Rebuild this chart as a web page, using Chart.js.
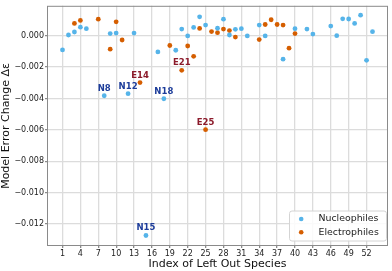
<!DOCTYPE html>
<html>
<head>
<meta charset="utf-8">
<script src="https://cdn.jsdelivr.net/npm/chart.js@4.4.0/dist/chart.umd.min.js"></script>
<style>
html, body { margin: 0; padding: 0; background: #fff; }
</style>
</head>
<body>
<canvas id="scatter" width="392" height="271"></canvas>
<script>
// values
var nucIndex = [1, 2, 3, 4, 5, 8, 9, 10, 12, 13, 15, 17, 18, 20, 21, 22, 23, 24, 25, 27,
    28, 29, 30, 31, 32, 34, 35, 38, 40, 42, 43, 46, 47, 48, 49, 50, 51, 52, 53];
var nucChange = [-0.00091, 0.00004, 0.00023, 0.00054, 0.00044, -0.00383, 0.00013, 0.00016, -0.00370, 0.00016,
    -0.01273, -0.00104, -0.00402, -0.00093, 0.00042, -0.00002, 0.00052, 0.00120, 0.00067, 0.00047,
    0.00105, 0.00004, 0.00040, 0.00044, -0.00002, 0.00067, -0.00002, -0.00150, 0.00044, 0.00042,
    0.00010, 0.00061, 0.00000, 0.00107, 0.00106, 0.00078, 0.00130, -0.00157, 0.00025];
var elecIndex = [3, 4, 7, 9, 10, 11, 14, 19, 21, 22, 23, 24, 25, 26, 27, 28, 29, 30, 34, 35,
    36, 37, 38, 39, 40];
var elecChange = [0.00078, 0.00097, 0.00105, -0.00086, 0.00088, -0.00028, -0.00299, -0.00063, -0.00221, -0.00066,
    -0.00132, 0.00046, -0.00599, 0.00026, 0.00019, 0.00042, 0.00032, -0.00009, -0.00025, 0.00071,
    0.00101, 0.00071, 0.00067, -0.00080, 0.00013];

var nucTagged = [8, 12, 15, 18];
var elecTagged = [14, 21, 25];

var xTicks = [1, 4, 7, 10, 13, 16, 19, 22, 25, 28, 31, 34, 37, 40, 43, 46, 49, 52];
var yTicks = [-0.012, -0.010, -0.008, -0.006, -0.004, -0.002, 0.000];

Chart.defaults.font.family = '"DejaVu Sans", sans-serif';
Chart.defaults.color = '#222';

function toPoints(xs, ys) {
    return xs.map(function (x, i) { return { x: x, y: ys[i] }; });
}

function tagPoints(chart, list, xs, ys, prefix, color) {
    var ctx = chart.ctx, sx = chart.scales.x, sy = chart.scales.y;
    ctx.save();
    ctx.font = 'bold 8.5px "DejaVu Sans"';
    ctx.fillStyle = color;
    ctx.textAlign = 'center';
    ctx.textBaseline = 'alphabetic';
    list.forEach(function (n) {
        var i = xs.indexOf(n);
        ctx.fillText(prefix + n, sx.getPixelForValue(n), sy.getPixelForValue(ys[i]) - 5);
    });
    ctx.restore();
}

var extras = {
    id: 'extras',
    beforeDatasetsDraw: function (chart) {
        var a = chart.chartArea, ctx = chart.ctx;
        ctx.save();
        ctx.strokeStyle = '#8a8a8a';
        ctx.lineWidth = 1;
        ctx.strokeRect(a.left + 0.5, a.top + 0.5, a.right - a.left - 1, a.bottom - a.top - 1);
        ctx.restore();
    },
    afterDatasetsDraw: function (chart) {
        tagPoints(chart, nucTagged, nucIndex, nucChange, 'N', '#1c3c9a');
        tagPoints(chart, elecTagged, elecIndex, elecChange, 'E', '#8c1b2b');

        // legend in the lower right corner
        var a = chart.chartArea, ctx = chart.ctx;
        var w = 97, h = 30, x = a.right - w - 1.5, y = a.bottom - h - 5;
        ctx.save();
        ctx.beginPath();
        ctx.roundRect(x, y, w, h, 2.5);
        ctx.fillStyle = 'rgba(255,255,255,0.85)';
        ctx.fill();
        ctx.strokeStyle = '#d4d4d4';
        ctx.lineWidth = 1;
        ctx.stroke();
        ctx.font = '9.4px "DejaVu Sans"';
        ctx.textAlign = 'left';
        ctx.textBaseline = 'middle';
        chart.data.datasets.forEach(function (ds, k) {
            var cy = y + 8 + k * 13.3;
            ctx.beginPath();
            ctx.arc(x + 11.7, cy, 2.3, 0, Math.PI * 2);
            ctx.fillStyle = ds.backgroundColor;
            ctx.fill();
            ctx.fillStyle = '#222';
            ctx.fillText(ds.label, x + 29, cy);
        });
        ctx.restore();
    }
};

var graph = document.getElementById('scatter').getContext('2d');
var myChart = new Chart(graph, {
    type: 'scatter',
    data: {
        datasets: [{
            label: 'Nucleophiles',
            data: toPoints(nucIndex, nucChange),
            backgroundColor: '#56B4E9',
            borderWidth: 0,
            pointRadius: 2.4
        }, {
            label: 'Electrophiles',
            data: toPoints(elecIndex, elecChange),
            backgroundColor: '#D55E00',
            borderWidth: 0,
            pointRadius: 2.4
        }]
    },
    options: {
        responsive: false,
        animation: false,
        layout: { padding: { top: 2, right: 2, left: 0, bottom: 0 } },
        plugins: {
            legend: { display: false },
            tooltip: { enabled: false }
        },
        scales: {
            x: {
                type: 'linear',
                min: -1.6,
                max: 55.6,
                afterBuildTicks: function (s) { s.ticks = xTicks.map(function (v) { return { value: v }; }); },
                afterFit: function (s) { s.height = 25; },
                grid: { color: '#dcdcdc', lineWidth: 1.3, tickLength: 2, tickColor: '#8a8a8a' },
                border: { display: false },
                ticks: { font: { size: 8 }, padding: 1, maxRotation: 0, autoSkip: false },
                title: {
                    display: true,
                    text: 'Index of Left Out Species',
                    font: { size: 11 },
                    color: '#111',
                    padding: { top: 1.4, bottom: 0 }
                }
            },
            y: {
                min: -0.0134,
                max: 0.0019,
                afterBuildTicks: function (s) { s.ticks = yTicks.map(function (v) { return { value: v }; }); },
                afterFit: function (s) { s.width = 47; },
                grid: { color: '#dcdcdc', lineWidth: 1.3, tickLength: 2, tickColor: '#8a8a8a' },
                border: { display: false },
                ticks: {
                    font: { size: 8 },
                    padding: 1,
                    callback: function (v) { return v.toFixed(3).replace('-', '\u2212'); }
                },
                title: {
                    display: true,
                    text: 'Model Error Change \u0394\u03b5',
                    font: { size: 11 },
                    color: '#111',
                    padding: { top: 0, bottom: 0 }
                }
            }
        }
    },
    plugins: [extras]
});
</script>
</body>
</html>
